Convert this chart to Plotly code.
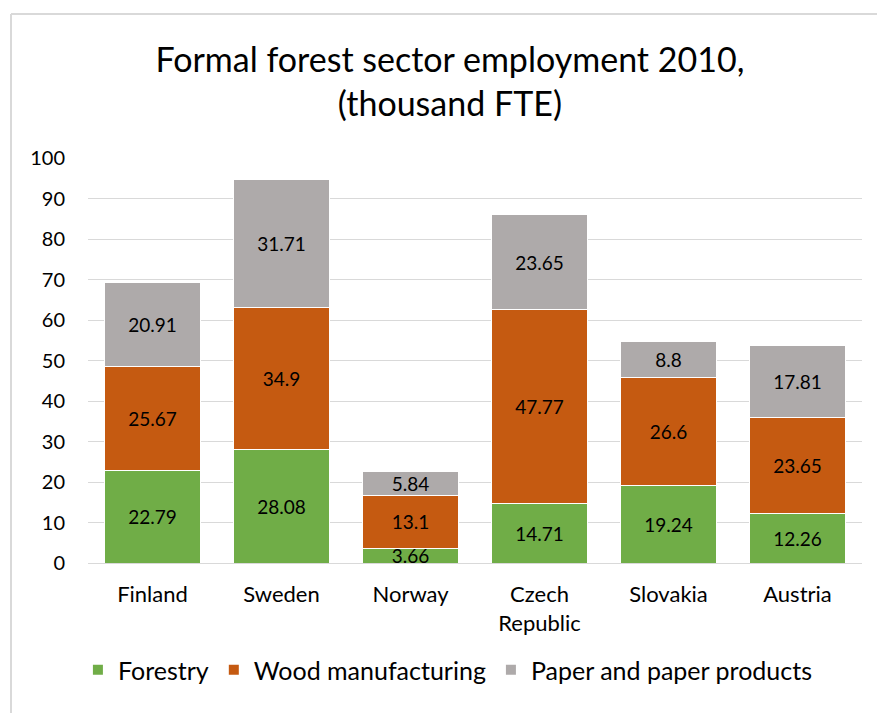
import plotly.graph_objects as go

countries = ["Finland", "Sweden", "Norway", "Czech<br>Republic", "Slovakia", "Austria"]
forestry = [22.79, 28.08, 3.66, 14.71, 19.24, 12.26]
wood = [25.67, 34.9, 13.1, 47.77, 26.6, 23.65]
paper = [20.91, 31.71, 5.84, 23.65, 8.8, 17.81]

series = [
    ("Forestry", forestry, "#70AD47"),
    ("Wood manufacturing", wood, "#C55A11"),
    ("Paper and paper products", paper, "#AEAAAA"),
]

FONT = "Lato, Calibri, Carlito, sans-serif"

fig = go.Figure()
for name, vals, col in series:
    fig.add_trace(go.Bar(
        x=countries, y=vals, name=name,
        marker=dict(color=col, line=dict(color="white", width=1)),
        text=[str(v) for v in vals],
        textposition="inside", insidetextanchor="middle",
        textfont=dict(color="black", size=19, family=FONT),
        constraintext="none",
    ))

W, H = 877, 713
L, R, T, B = 88, 15, 158, 150
pw, ph = W - L - R, H - T - B

def px2x(px):
    return (px - L) / pw

def py2y(py):
    return (H - B - py) / ph

fig.update_layout(
    width=W, height=H,
    barmode="stack", bargap=0.256,
    margin=dict(l=L, r=R, t=T, b=B, autoexpand=False),
    paper_bgcolor="white", plot_bgcolor="white",
    font=dict(family=FONT, color="black"),
    title=dict(
        text="Formal forest sector employment 2010,<br>(thousand FTE)",
        x=0.513, xanchor="center", xref="container",
        y=1 - 72 / H, yanchor="top", yref="container",
        font=dict(size=34, family=FONT, color="black"),
    ),
    legend=dict(
        orientation="h", x=0.465, xanchor="center",
        y=py2y(670), yanchor="middle",
        font=dict(size=25, family=FONT, color="black"),
        traceorder="normal", itemsizing="constant", itemwidth=30,
    ),
    showlegend=True,
    uniformtext=dict(minsize=10, mode="show"),
)
fig.update_yaxes(
    range=[0, 100], dtick=10, showgrid=True, gridcolor="#D9D9D9", gridwidth=1,
    zeroline=True, zerolinecolor="#D9D9D9", zerolinewidth=1,
    showline=False, ticks="", ticklabelstandoff=22, automargin=False,
    tickfont=dict(size=20, family=FONT, color="black"),
)
fig.update_xaxes(
    showline=True, linecolor="#D9D9D9", linewidth=1, ticks="",
    ticklabelstandoff=12, automargin=False,
    tickfont=dict(size=22, family=FONT, color="black"),
)

# outer chart frame (top and left edges visible)
fig.add_shape(type="line", xref="paper", yref="paper",
              x0=px2x(11), x1=px2x(880), y0=py2y(14), y1=py2y(14),
              line=dict(color="#D9D9D9", width=2))
fig.add_shape(type="line", xref="paper", yref="paper",
              x0=px2x(11), x1=px2x(11), y0=py2y(14), y1=py2y(720),
              line=dict(color="#D9D9D9", width=2))

fig.write_html(
    "out.html",
    config={"displayModeBar": False},
    post_script="document.body.style.margin='0';document.body.style.overflow='hidden';",
)
